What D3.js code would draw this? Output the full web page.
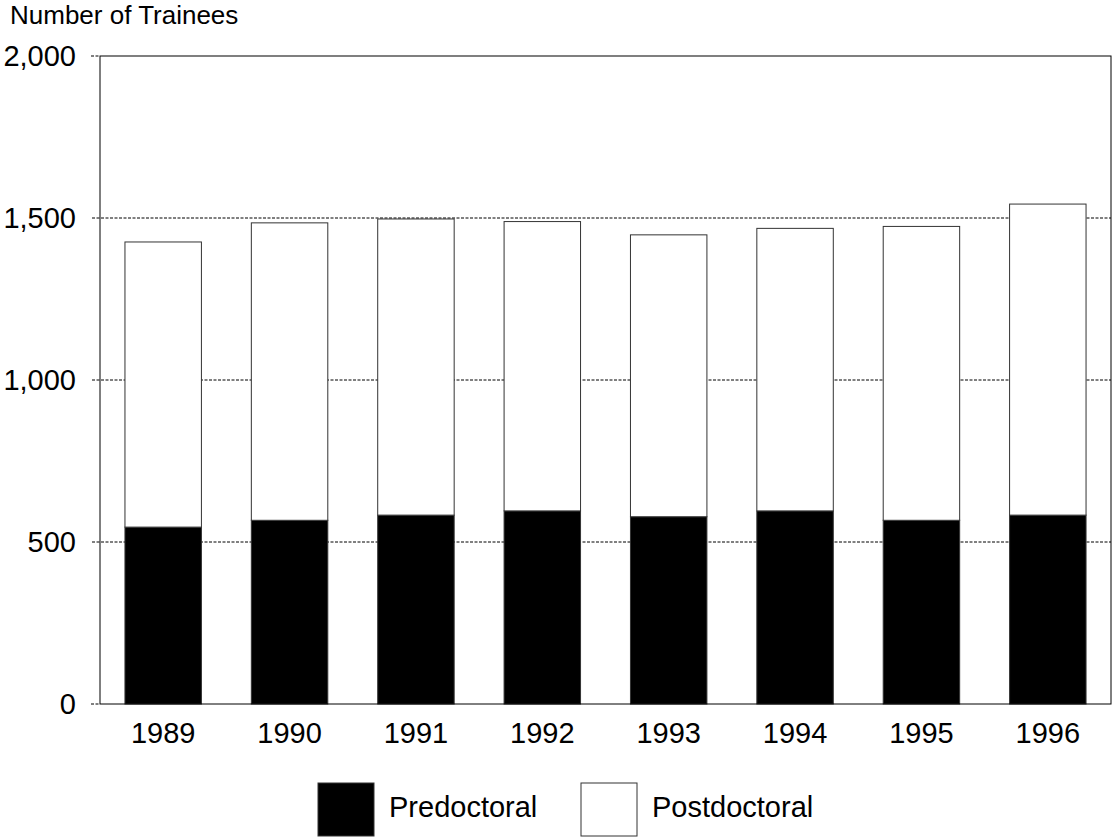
<!DOCTYPE html>
<html>
<head>
<meta charset="utf-8">
<script src="https://cdn.jsdelivr.net/npm/d3@7"></script>
<style>
  body { margin: 0; background: #fff; }
  svg { display: block; font-family: "Liberation Sans", Arial, sans-serif; }
</style>
</head>
<body>
<div id="chart"></div>
<script>
const years = ['1989', '1990', '1991', '1992', '1993', '1994', '1995', '1996'];
const predoctoral = [546, 567, 583, 596, 578, 596, 567, 583];
const totals = [1426, 1485, 1497, 1489, 1448, 1468, 1474, 1543];
const postdoctoral = totals.map((t, i) => t - predoctoral[i]);
const yTicks = [0, 500, 1000, 1500, 2000];
const seriesNames = ['Predoctoral', 'Postdoctoral'];
const seriesColors = ['#000000', '#ffffff'];

const width = 1113, height = 840;
const margin = { top: 56, right: 2, bottom: 136, left: 100 };
const innerW = width - margin.left - margin.right;
const innerH = height - margin.top - margin.bottom;

const svg = d3.select('#chart').append('svg')
  .attr('width', width)
  .attr('height', height);

const g = svg.append('g').attr('transform', `translate(${margin.left},${margin.top})`);

const x = d3.scaleBand().domain(years).range([0, innerW]).paddingInner(0.395).paddingOuter(0.1975);
const y = d3.scaleLinear().domain([0, 2000]).range([innerH, 0]);

// gridlines
g.selectAll('.grid')
  .data(yTicks.filter(d => d > 0 && d < 2000))
  .enter().append('line')
  .attr('x1', -8).attr('x2', innerW)
  .attr('y1', d => y(d)).attr('y2', d => y(d))
  .attr('stroke', '#000').attr('stroke-width', 1)
  .attr('stroke-dasharray', '3,1.5');

// tick marks at 0 and 2000
g.selectAll('.tk')
  .data([0, 2000])
  .enter().append('line')
  .attr('x1', -9).attr('x2', 0)
  .attr('y1', d => y(d)).attr('y2', d => y(d))
  .attr('stroke', '#000').attr('stroke-dasharray', '3,1.5');

// stacked bars
const stackData = years.map((yr, i) => ({ year: yr, Predoctoral: predoctoral[i], Postdoctoral: postdoctoral[i] }));
const stack = d3.stack().keys(seriesNames)(stackData);

g.selectAll('.series')
  .data(stack)
  .enter().append('g')
  .attr('fill', (d, i) => seriesColors[i])
  .selectAll('rect')
  .data(d => d)
  .enter().append('rect')
  .attr('x', d => x(d.data.year))
  .attr('y', d => y(d[1]))
  .attr('width', x.bandwidth())
  .attr('height', d => y(d[0]) - y(d[1]))
  .attr('stroke', '#333')
  .attr('stroke-width', 1);

// frame
g.append('rect')
  .attr('x', 0).attr('y', 0)
  .attr('width', innerW).attr('height', innerH)
  .attr('fill', 'none')
  .attr('stroke', '#000').attr('stroke-width', 1);

// y labels
g.selectAll('.ylab')
  .data(yTicks)
  .enter().append('text')
  .attr('x', -24)
  .attr('y', d => y(d))
  .attr('dy', '0.35em')
  .attr('text-anchor', 'end')
  .attr('font-size', 29)
  .text(d => d3.format(',')(d));

// x labels
g.selectAll('.xlab')
  .data(years)
  .enter().append('text')
  .attr('x', d => x(d) + x.bandwidth() / 2)
  .attr('y', innerH + 39)
  .attr('text-anchor', 'middle')
  .attr('font-size', 29)
  .text(d => d);

// axis title
svg.append('text')
  .attr('x', 10).attr('y', 24)
  .attr('font-size', 26)
  .text('Number of Trainees');

// legend
const legendX = [318, 581];
const legend = svg.selectAll('.legend')
  .data(seriesNames)
  .enter().append('g')
  .attr('transform', (d, i) => `translate(${legendX[i]},783)`);

legend.append('rect')
  .attr('width', 56).attr('height', 53)
  .attr('fill', (d, i) => seriesColors[i])
  .attr('stroke', '#333').attr('stroke-width', 1);

legend.append('text')
  .attr('x', 71).attr('y', 34)
  .attr('font-size', 29)
  .text(d => d);
</script>
</body>
</html>
